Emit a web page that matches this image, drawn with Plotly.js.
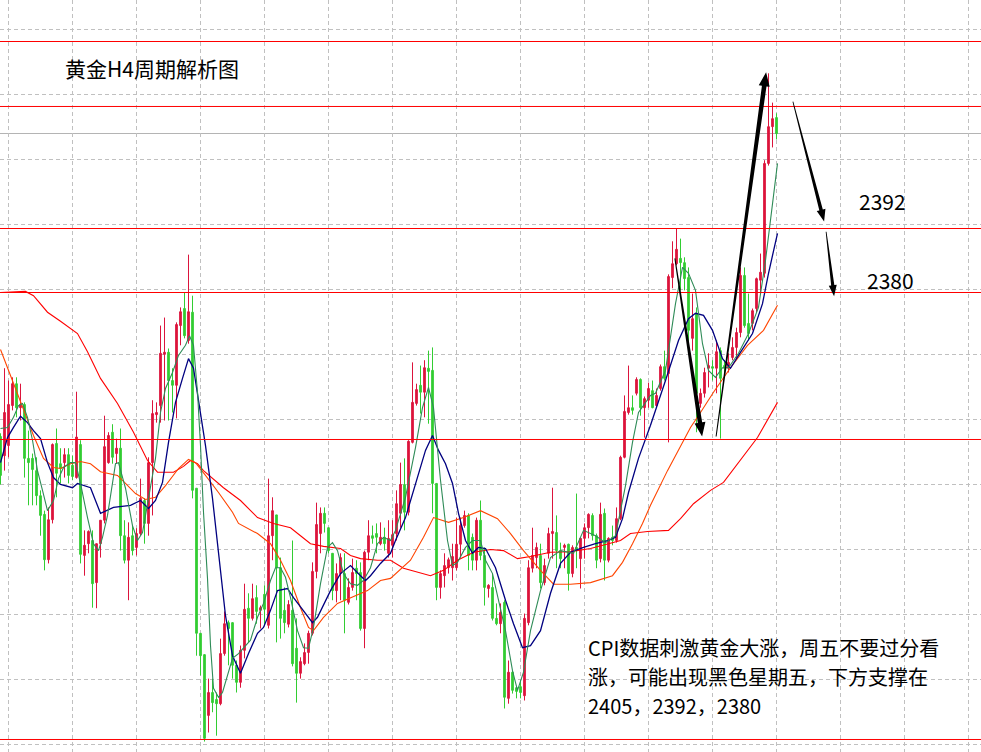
<!DOCTYPE html>
<html>
<head>
<meta charset="utf-8">
<script src="https://cdn.plot.ly/plotly-3.0.1.min.js"></script>
<style>
html,body{margin:0;padding:0;background:#fff;}
#chart{width:981px;height:752px;}
</style>
</head>
<body>
<div id="chart"></div>
<script>
// ---- Candle data (H4, index order) ----
const open = [2353.0,2349.4,2351.3,2358.8,2362.9,2358.4,2359.0,2348.9,2348.9,2346.6,2341.9,2338.4,2329.9,2337.4,2351.7,2347.9,2348.1,2349.6,2347.6,2345.3,2351.5,2330.7,2332.9,2333.5,2325.6,2332.9,2337.3,2348.1,2353.8,2349.8,2350.8,2334.4,2329.8,2334.4,2332.2,2334.8,2341.0,2336.7,2348.1,2357.1,2358.8,2368.4,2368.8,2363.5,2362.6,2373.8,2377.0,2371.0,2376.3,2343.3,2316.1,2312.1,2300.7,2305.0,2303.7,2302.9,2312.3,2318.1,2318.1,2310.1,2306.9,2312.9,2320.8,2318.9,2322.8,2320.4,2323.4,2317.6,2334.4,2338.3,2328.4,2320.4,2317.8,2320.4,2313.3,2308.6,2310.4,2312.5,2316.1,2327.7,2334.8,2338.6,2335.9,2331.1,2324.1,2327.3,2327.3,2321.9,2324.7,2328.3,2327.5,2317.0,2331.3,2334.4,2334.8,2332.9,2334.1,2331.1,2332.6,2334.8,2338.6,2344.0,2338.8,2351.9,2359.2,2362.6,2361.3,2365.8,2365.4,2344.2,2324.7,2326.9,2328.4,2328.4,2328.4,2332.8,2336.3,2338.2,2334.1,2329.8,2337.3,2330.7,2324.5,2324.7,2318.9,2317.9,2321.9,2303.9,2308.8,2305.9,2306.1,2304.4,2318.1,2328.3,2330.3,2330.7,2325.6,2331.1,2334.8,2335.0,2331.6,2332.2,2332.8,2327.3,2332.2,2330.1,2333.9,2335.9,2338.2,2334.4,2330.1,2338.6,2329.8,2334.1,2333.5,2337.6,2349.1,2357.5,2358.4,2361.1,2363.7,2358.4,2359.8,2361.6,2358.8,2362.0,2366.1,2364.8,2382.8,2385.4,2386.4,2385.6,2382.8,2371.4,2376.1,2359.2,2361.1,2365.8,2366.1,2365.8,2369.1,2366.3,2365.8,2367.8,2369.7,2372.5,2383.2,2374.2,2374.2,2377.0,2382.3,2383.6,2404.2,2411.1,2412.8];
const high = [2353.6,2365.8,2363.5,2364.1,2364.1,2362.9,2359.4,2354.1,2349.8,2349.1,2342.9,2339.1,2339.7,2351.7,2354.5,2350.8,2350.8,2350.8,2349.4,2361.4,2352.3,2335.4,2335.4,2335.4,2332.9,2337.3,2356.9,2353.8,2355.3,2352.6,2354.5,2337.3,2336.9,2336.3,2335.8,2345.1,2341.4,2349.1,2359.8,2359.4,2373.8,2375.3,2369.5,2365.8,2374.4,2377.2,2380.0,2387.1,2379.4,2343.3,2316.1,2312.1,2307.6,2307.6,2305.0,2315.1,2320.2,2318.5,2318.1,2311.0,2313.8,2325.4,2323.6,2325.4,2325.1,2321.3,2325.1,2345.1,2341.6,2338.3,2330.3,2324.7,2322.3,2333.5,2318.9,2311.6,2314.2,2316.6,2329.4,2340.6,2339.7,2339.7,2335.9,2331.1,2329.2,2331.1,2331.1,2326.4,2330.1,2329.8,2329.4,2331.6,2337.3,2336.3,2336.7,2336.9,2335.9,2337.3,2337.3,2342.9,2348.1,2348.9,2352.3,2366.9,2362.9,2366.3,2367.3,2369.1,2369.7,2344.2,2327.9,2331.1,2330.3,2332.9,2337.8,2337.8,2339.1,2338.6,2334.8,2337.8,2341.0,2332.2,2325.3,2327.3,2321.7,2321.7,2322.3,2311.0,2309.1,2306.1,2307.3,2319.8,2329.8,2335.9,2333.1,2332.9,2330.1,2335.9,2343.4,2338.2,2333.1,2332.9,2332.9,2332.6,2342.3,2334.1,2336.7,2338.6,2338.6,2334.8,2340.6,2339.5,2334.1,2336.3,2339.7,2349.4,2360.7,2366.3,2360.7,2364.1,2363.9,2360.5,2363.1,2363.5,2362.0,2366.5,2369.1,2383.4,2389.6,2392.0,2390.1,2386.6,2384.7,2379.8,2377.2,2362.0,2365.9,2368.6,2367.3,2371.0,2369.7,2367.3,2368.6,2371.6,2373.4,2384.7,2384.7,2379.8,2377.0,2382.8,2387.3,2404.8,2421.1,2415.6,2413.6];
const low = [2344.0,2346.6,2349.1,2357.9,2356.6,2356.0,2345.3,2340.1,2340.1,2340.1,2334.4,2327.9,2329.2,2336.7,2341.6,2344.2,2345.3,2344.2,2344.8,2345.1,2329.2,2326.9,2331.1,2320.9,2320.8,2330.3,2336.7,2347.9,2347.9,2347.9,2331.6,2329.2,2322.3,2330.7,2330.7,2334.4,2332.9,2334.4,2338.2,2355.6,2355.6,2356.0,2356.0,2357.5,2356.4,2370.1,2371.4,2370.4,2341.4,2311.9,2308.2,2295.8,2297.5,2301.3,2296.9,2302.6,2311.9,2310.1,2307.6,2305.0,2305.9,2311.4,2314.4,2318.5,2317.9,2317.0,2317.6,2317.0,2329.8,2314.4,2315.1,2316.1,2317.2,2309.9,2303.1,2307.6,2310.1,2310.4,2315.7,2326.4,2331.1,2335.0,2331.1,2322.3,2321.9,2322.3,2316.1,2321.5,2324.1,2322.3,2316.6,2313.3,2329.8,2332.9,2331.1,2332.6,2331.6,2330.3,2330.3,2333.5,2335.9,2335.4,2338.2,2351.7,2358.8,2357.3,2356.6,2355.4,2338.6,2322.3,2322.6,2324.7,2327.3,2326.0,2327.9,2330.3,2335.9,2327.9,2327.9,2327.9,2329.8,2321.3,2322.8,2318.5,2317.6,2316.1,2302.0,2302.9,2304.8,2303.9,2303.9,2303.5,2317.6,2327.5,2328.3,2324.5,2325.1,2330.1,2330.1,2328.3,2328.3,2328.3,2324.1,2326.6,2328.3,2324.5,2330.1,2333.9,2333.5,2328.3,2329.4,2326.0,2329.4,2332.6,2333.1,2337.3,2348.9,2357.1,2357.1,2360.7,2356.9,2352.8,2358.4,2358.3,2358.3,2361.6,2363.5,2351.9,2380.8,2385.1,2380.4,2380.4,2370.4,2369.1,2353.8,2358.4,2360.3,2362.2,2363.5,2361.1,2352.6,2365.0,2365.0,2367.3,2367.6,2371.6,2373.4,2371.0,2372.9,2376.3,2379.8,2382.8,2403.8,2407.2,2408.7];
const close = [2345.7,2357.5,2359.0,2362.9,2358.4,2359.0,2348.9,2348.1,2346.8,2341.9,2338.2,2329.9,2337.4,2351.5,2346.1,2347.0,2349.6,2345.7,2345.5,2352.9,2330.9,2332.6,2335.2,2325.4,2332.9,2337.3,2351.1,2353.2,2349.1,2350.8,2334.4,2329.8,2334.1,2331.6,2334.8,2341.4,2336.7,2348.1,2357.3,2357.5,2368.6,2368.8,2363.5,2362.6,2374.0,2376.4,2371.9,2376.4,2342.9,2316.1,2311.9,2296.4,2305.0,2303.1,2302.9,2312.3,2317.9,2317.0,2310.1,2306.9,2312.9,2320.6,2318.9,2322.6,2320.2,2320.9,2320.6,2334.4,2339.1,2328.4,2318.9,2318.1,2321.5,2310.4,2308.6,2310.8,2312.5,2316.1,2327.7,2336.5,2338.6,2336.7,2331.6,2324.1,2327.3,2330.3,2322.3,2324.7,2327.5,2327.3,2317.0,2331.3,2334.4,2333.9,2334.1,2334.1,2332.9,2333.9,2334.6,2340.4,2344.0,2338.8,2352.1,2359.4,2361.8,2361.3,2365.9,2365.2,2344.2,2324.7,2327.3,2328.8,2329.9,2330.5,2332.8,2336.3,2338.2,2330.7,2329.8,2337.3,2330.7,2324.7,2325.1,2318.9,2317.9,2320.0,2304.1,2308.8,2305.4,2305.2,2305.0,2318.9,2328.4,2330.7,2332.2,2325.6,2328.8,2334.8,2335.2,2331.6,2330.1,2332.6,2327.3,2332.2,2331.6,2333.9,2335.9,2338.4,2334.4,2329.8,2338.4,2329.8,2333.9,2333.5,2337.6,2349.1,2357.7,2358.4,2357.9,2363.7,2358.4,2360.1,2362.0,2358.4,2360.7,2366.1,2363.9,2383.0,2385.4,2388.1,2385.6,2382.6,2372.9,2375.1,2361.1,2361.1,2365.0,2366.3,2365.8,2368.9,2363.9,2365.8,2366.9,2369.7,2372.5,2383.2,2373.8,2372.3,2376.6,2382.6,2383.8,2404.2,2411.1,2412.6,2409.8];

// ---- Moving averages (x = candle index) ----
const maFastX = [0,1.75,3.25,4.5,5.5,6.75,8,9.25,10.5,11.75,13.25,14.5,15.75,17.5,18.75,20,21.75,23.25,24.5,25.5,26.75,28.75,29.5,31.25,33,34.25,35.5,37,38.75,40,41.25,43,44.5,46.25,47.25,48.25,49.25,50,50.75,51.75,52.5,53.25,54.5,55.5,56.75,58,59.5,61.25,62.5,64.25,65.75,67.5,68.75,70,71.25,72.5,74.25,75.75,77,78.25,80,81.75,83,84.25,85.75,87.5,89.25,90.75,92.5,94.25,95.75,97.5,98.75,101.25,103.75,105.5,107,108.25,110,111.75,113,114.25,116.25,118,120,121.25,123,124.5,126.25,128,129.25,130.75,132.5,135,137.5,140,143.25,145.75,148.75,151.25,153.75,156.25,158,159.5,162.5,163.75,166.25,168.75,170.5,172,173.75,175.5,177,178.75,180.5,182,184.5,187,189.5,191.25,193,194.25];
const maFast = [2354.5,2354.7,2356.6,2358.8,2359.2,2356.6,2352.3,2346.6,2342.9,2339.1,2341.0,2345.1,2347.2,2348.1,2348.1,2344.2,2337.8,2332.9,2331.6,2334.1,2338.2,2347.9,2348.1,2343.3,2336.3,2333.5,2335.0,2341.4,2348.9,2357.5,2362.0,2365.0,2368.2,2370.1,2371.9,2370.1,2361.3,2351.3,2338.8,2326.4,2313.8,2305.8,2304.1,2305.0,2308.2,2311.4,2312.3,2313.8,2314.8,2319.1,2321.7,2326.0,2328.4,2328.4,2326.6,2322.8,2316.6,2313.4,2313.3,2317.2,2325.4,2332.2,2333.1,2331.6,2327.3,2325.4,2325.1,2326.0,2328.4,2332.9,2334.1,2333.5,2335.4,2341.6,2350.9,2358.4,2362.2,2358.4,2344.8,2333.5,2328.8,2329.4,2332.2,2333.5,2333.5,2329.8,2327.3,2322.3,2316.6,2309.1,2305.4,2308.8,2316.6,2324.1,2330.3,2331.6,2331.1,2335.4,2334.4,2333.1,2334.4,2343.8,2351.9,2357.5,2360.7,2361.1,2365.4,2377.9,2384.7,2383.6,2380.4,2370.4,2365.4,2364.1,2365.9,2365.9,2368.6,2372.3,2377.2,2386.0,2396.7,2404.2];

const maMidX = [0,1.75,3.25,5,6.75,8.25,10,11.75,13.25,15,18,19.25,22.5,25,28.25,32.5,35,37,38.75,40.5,42,43.75,45.5,47,48.25,49.5,51.25,53,54.5,56.25,58,60,62,64.25,65.75,67.5,69.25,71.75,73.25,75.75,78,79.25,82.5,85,87.5,90,91.25,92.5,95,97.5,98.75,101.25,103.75,106.25,108,109.5,111.25,113,114.5,116.25,118,119.5,121.25,123.75,126.25,128.25,130.5,132.5,135,137.5,140,142.5,145.75,148.75,152,153.75,155.5,157,159.5,162.5,166.25,169.5,172,173.75,175.75,178,180.5,182.5,184.5,188,190.5,192,194.25];
const maMid = [2348.1,2352.8,2354.7,2356.8,2355.6,2354.1,2352.6,2348.1,2345.3,2344.0,2343.4,2344.2,2343.4,2338.6,2339.7,2340.1,2341.0,2339.5,2341.0,2344.4,2351.9,2359.4,2363.9,2367.6,2365.8,2360.1,2351.3,2341.4,2330.7,2319.4,2311.9,2308.6,2312.3,2316.1,2317.2,2320.4,2324.1,2324.5,2322.8,2320.4,2318.1,2319.1,2324.1,2327.3,2328.8,2326.9,2326.0,2326.9,2329.2,2331.1,2333.5,2337.8,2344.2,2350.4,2353.2,2350.4,2347.9,2344.2,2338.6,2333.5,2331.1,2332.2,2332.0,2328.4,2322.3,2317.9,2313.4,2313.8,2316.6,2323.6,2329.2,2331.3,2332.2,2332.9,2333.5,2334.1,2337.6,2342.5,2348.9,2355.1,2363.5,2371.0,2375.1,2376.1,2375.7,2372.9,2367.6,2365.8,2368.2,2372.3,2377.9,2383.6,2391.1];

const maSlowX = [0,2.5,5,8.25,10.75,13.25,15,17.5,20,22.5,25,29.25,31.25,33.75,36.25,38.75,41.25,44.5,47,48.75,51.25,54.5,58,59.5,64.25,67.5,70,72.5,75,77,78.25,80.75,84.25,87.5,91.75,95,97.5,102.5,105.75,108.25,112,115.75,120,124.25,127.5,130.75,135,138.25,142.5,147.5,153,155.5,158,160.5,162.5,166.75,172.5,175,178.25,182.5,186.75,190.75,194.25];
const maSlow = [2369.3,2364.4,2359.2,2353.2,2348.9,2347.2,2347.0,2347.9,2348.3,2347.9,2346.4,2345.7,2344.2,2342.3,2341.2,2341.6,2343.8,2347.0,2348.7,2348.1,2345.7,2342.5,2338.8,2336.7,2334.8,2332.9,2329.8,2326.0,2320.9,2317.2,2316.6,2319.1,2321.7,2322.8,2324.1,2326.0,2326.4,2329.8,2334.1,2337.8,2336.9,2337.8,2339.1,2337.6,2334.8,2331.6,2327.9,2325.3,2325.3,2325.6,2326.9,2329.4,2332.9,2336.7,2340.1,2346.6,2354.7,2357.5,2361.3,2365.9,2370.1,2372.9,2377.6];

const maLongX = [0,6.25,8.25,11.75,15,19.25,21.75,25,29.25,33.25,36.75,39.25,43.25,45.75,47.5,49.25,50.75,55.75,60,64.25,68.25,72.5,75,77.5,80.75,85,87.5,90,94.25,97.5,100.75,107.5,110.75,114.25,118.25,122.5,125.75,129.25,132.5,137.5,142.5,147.5,152,155,157.5,161.75,167,170,173.25,177.5,180.75,185,189.25,194.25];
const maLong = [2380.0,2380.2,2379.4,2376.3,2374.6,2372.3,2368.9,2363.9,2359.2,2353.8,2348.5,2346.3,2346.3,2347.4,2348.5,2347.9,2346.6,2343.4,2341.0,2337.8,2336.7,2335.9,2334.4,2332.9,2332.4,2332.0,2330.7,2330.1,2329.8,2329.8,2328.3,2326.9,2327.9,2329.8,2331.3,2331.8,2331.6,2330.1,2330.5,2331.3,2331.4,2332.0,2332.9,2333.5,2334.8,2335.2,2335.4,2337.6,2340.4,2342.9,2344.4,2348.5,2352.8,2359.4];

// ---- Level lines and labels ----
const redLevels = [2427.06, 2414.88, 2392.0, 2380.0, 2352.44, 2296.19];
const bidLevel = 2409.81;
const levelLabels = ["2392", "2380"];
const titleText = "黄金H4周期解析图";
const noteLines = ["CPI数据刺激黄金大涨，周五不要过分看", "涨，可能出现黑色星期五，下方支撑在", "2405，2392，2380"];
// arrows: [tailIndex, tailPrice, headIndex, headPrice]
const arrows = [
  [168.6, 2386.4, 175.4, 2353.0],
  [178.9, 2353.0, 191.4, 2421.3],
  [198.1, 2415.8, 205.9, 2393.3],
  [206.4, 2391.4, 208.4, 2379.3]
];

const Y1 = 2434.844, Y0 = Y1 - 141;
const X0 = -0.125, X1 = 245.125;
const W = 981, H = 752;
const xs = open.map((_, i) => i);

const traces = [
  {type:'candlestick', x: xs, open, high, low, close,
   increasing:{line:{color:'#dc143c', width:1}, fillcolor:'#dc143c'},
   decreasing:{line:{color:'#32cd32', width:1}, fillcolor:'#32cd32'},
   whiskerwidth:0, hoverinfo:'skip', showlegend:false},
  {type:'scatter', mode:'lines', x: maLongX, y: maLong, line:{color:'#ff0000', width:1.1}, hoverinfo:'skip', showlegend:false},
  {type:'scatter', mode:'lines', x: maSlowX, y: maSlow, line:{color:'#ff4500', width:1.1}, hoverinfo:'skip', showlegend:false},
  {type:'scatter', mode:'lines', x: maMidX, y: maMid, line:{color:'#000080', width:1.3}, hoverinfo:'skip', showlegend:false},
  {type:'scatter', mode:'lines', x: maFastX, y: maFast, line:{color:'#2e8b57', width:1.1}, hoverinfo:'skip', showlegend:false}
];

// convert helpers (for arrow polygon geometry)
const sx = W / (X1 - X0), sy = H / (Y1 - Y0);
const toPx = (x, y) => [(x - X0) * sx, (Y1 - y) * sy];
const toData = (px, py) => [px / sx + X0, Y1 - py / sy];

function arrowPath(a, w0, w1, hw, hl) {
  const T = toPx(a[0], a[1]), Hd = toPx(a[2], a[3]);
  const dx = Hd[0] - T[0], dy = Hd[1] - T[1];
  const len = Math.hypot(dx, dy);
  const ux = dx / len, uy = dy / len, nx = -uy, ny = ux;
  const B = [Hd[0] - ux * hl, Hd[1] - uy * hl];
  const pts = [
    [T[0] + nx * w0, T[1] + ny * w0],
    [B[0] + nx * w1, B[1] + ny * w1],
    [B[0] + nx * hw, B[1] + ny * hw],
    Hd,
    [B[0] - nx * hw, B[1] - ny * hw],
    [B[0] - nx * w1, B[1] - ny * w1],
    [T[0] - nx * w0, T[1] - ny * w0]
  ].map(p => toData(p[0], p[1]));
  return 'M' + pts.map(p => p[0].toFixed(4) + ',' + p[1].toFixed(4)).join(' L') + ' Z';
}

const shapes = [];
redLevels.forEach(v => shapes.push({type:'line', xref:'paper', x0:0, x1:1, yref:'y', y0:v, y1:v, line:{color:'#ff0000', width:1}, layer:'above'}));
shapes.push({type:'line', xref:'paper', x0:0, x1:1, yref:'y', y0:bidLevel, y1:bidLevel, line:{color:'#b4b4b4', width:1}, layer:'below'});
const arrowSpec = [[0.5, 2.2, 5.5, 14], [0.5, 2.3, 5.5, 14], [0.4, 1.8, 4.5, 12], [0.4, 1.6, 4, 11]];
arrows.forEach((a, k) => {
  const s = arrowSpec[k];
  shapes.push({type:'path', xref:'x', yref:'y', path: arrowPath(a, s[0], s[1], s[2], s[3]), fillcolor:'#000000', line:{width:0}, layer:'above'});
});

const font = "'Noto Sans CJK SC', 'Microsoft YaHei', sans-serif";
const annotations = [
  {xref:'paper', yref:'paper', x:63/W, y:1-68/H, xanchor:'left', yanchor:'middle', text:titleText, showarrow:false, font:{family:font, size:21, color:'#000'}},
  {xref:'paper', yref:'paper', x:882/W, y:1-201/H, xanchor:'center', yanchor:'middle', text:levelLabels[0], showarrow:false, font:{family:font, size:21, color:'#000'}},
  {xref:'paper', yref:'paper', x:890/W, y:1-280/H, xanchor:'center', yanchor:'middle', text:levelLabels[1], showarrow:false, font:{family:font, size:21, color:'#000'}}
];
const noteY = [647, 676, 705];
noteLines.forEach((t, k) => annotations.push({xref:'paper', yref:'paper', x:586/W, y:1-noteY[k]/H, xanchor:'left', yanchor:'middle', text:t, showarrow:false, font:{family:font, size:20, color:'#000'}}));

const layout = {
  width: W, height: H,
  margin:{l:0, r:0, t:0, b:0, pad:0},
  paper_bgcolor:'#ffffff', plot_bgcolor:'#ffffff',
  showlegend:false,
  boxgap:0.4,
  xaxis:{range:[X0, X1], rangeslider:{visible:false}, showticklabels:false, ticks:'', zeroline:false, showline:false,
         tickmode:'linear', tick0:2.0, dtick:16, showgrid:true, gridcolor:'#c0c0c0', griddash:'4px,3px', gridwidth:1, fixedrange:true},
  yaxis:{range:[Y0, Y1], showticklabels:false, ticks:'', zeroline:false, showline:false,
         tickmode:'linear', tick0:2429.31, dtick:12.1875, showgrid:true, gridcolor:'#c0c0c0', griddash:'4px,3px', gridwidth:1, fixedrange:true},
  shapes, annotations
};

Plotly.newPlot('chart', traces, layout, {displayModeBar:false, staticPlot:true});
</script>
</body>
</html>
